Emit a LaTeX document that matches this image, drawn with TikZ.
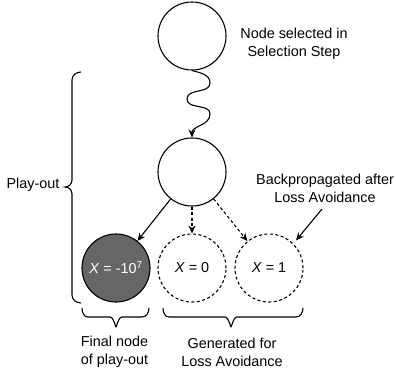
\documentclass[tikz,border=0pt]{standalone}
\usepackage{fontspec}
\setmainfont{Liberation Sans}
\usetikzlibrary{arrows.meta}
\tikzset{
  circ/.style={circle, draw, line width=1.1pt, minimum size=68pt, inner sep=0pt},
  dcirc/.style={circ, dash pattern=on 3pt off 2.5pt},
  lbl/.style={align=center, inner sep=0pt, font=\fontsize{14.4}{17.7}\selectfont},
  conn/.style={line width=1.1pt, -{Stealth[length=8pt,width=7pt]}},
  dconn/.style={conn, dash pattern=on 3pt off 2.5pt},
  bracestyle/.style={line width=1.1pt}
}
\begin{document}
\begin{tikzpicture}[x=1pt,y=-1pt]
\useasboundingbox (0,0) rectangle (396,375);
\node[circ] (top) at (192,36) {};
\node[circ] (mid) at (192,172) {};
\node[circ, fill={rgb,255:red,102;green,102;blue,102}, text=white] (fin) at (116,268) {\fontsize{14.4}{17}\selectfont\textit{X} = -10\textsuperscript{7}};
\node[dcirc] (z) at (192,268) {\fontsize{14.4}{17}\selectfont\textit{X} = 0};
\node[dcirc] (one) at (269,268) {\fontsize{14.4}{17}\selectfont\textit{X} = 1};

\node[lbl] (sel) at (294,44) {Node selected in\\Selection Step};
\node[lbl] (back) at (325,188) {Backpropagated after\\Loss Avoidance};
\node[lbl] (play) at (33,184.5) {Play-out};
\node[lbl] (finl) at (114.5,352) {Final node\\of play-out};
\node[lbl] (genl) at (232,352) {Generated for\\Loss Avoidance};

% wavy arrow
\draw[conn] (top.south) to[out=-15,in=90] (210,83) to[out=-90,in=90] (187,99) to[out=-90,in=90] (210,114) to[out=-90,in=90] (mid.north);

\draw[conn] (mid) -- (fin);
\draw[dconn] (mid) -- (z);
\draw[dconn] (mid) -- (one);

\coordinate (bs) at (322,209);
\draw[conn, shorten >=4pt] (bs) -- (one.45);

% left brace
\draw[bracestyle] (81,72) to[out=180,in=90] (72,80) -- (72,180) to[out=-90,in=0] (65,187) to[out=0,in=90] (72,194) -- (72,295) to[out=-90,in=180] (81,303);
% bottom braces
\draw[bracestyle] (82,308) to[out=-90,in=180] (88,317) -- (110,317) to[out=0,in=-90] (116,326) to[out=-90,in=180] (122,317) -- (142,317) to[out=0,in=-90] (149,308);
\draw[bracestyle] (163,308) to[out=-90,in=180] (169,317) -- (225,317) to[out=0,in=-90] (231,326) to[out=-90,in=180] (237,317) -- (296,317) to[out=0,in=-90] (303,308);
\end{tikzpicture}
\end{document}
